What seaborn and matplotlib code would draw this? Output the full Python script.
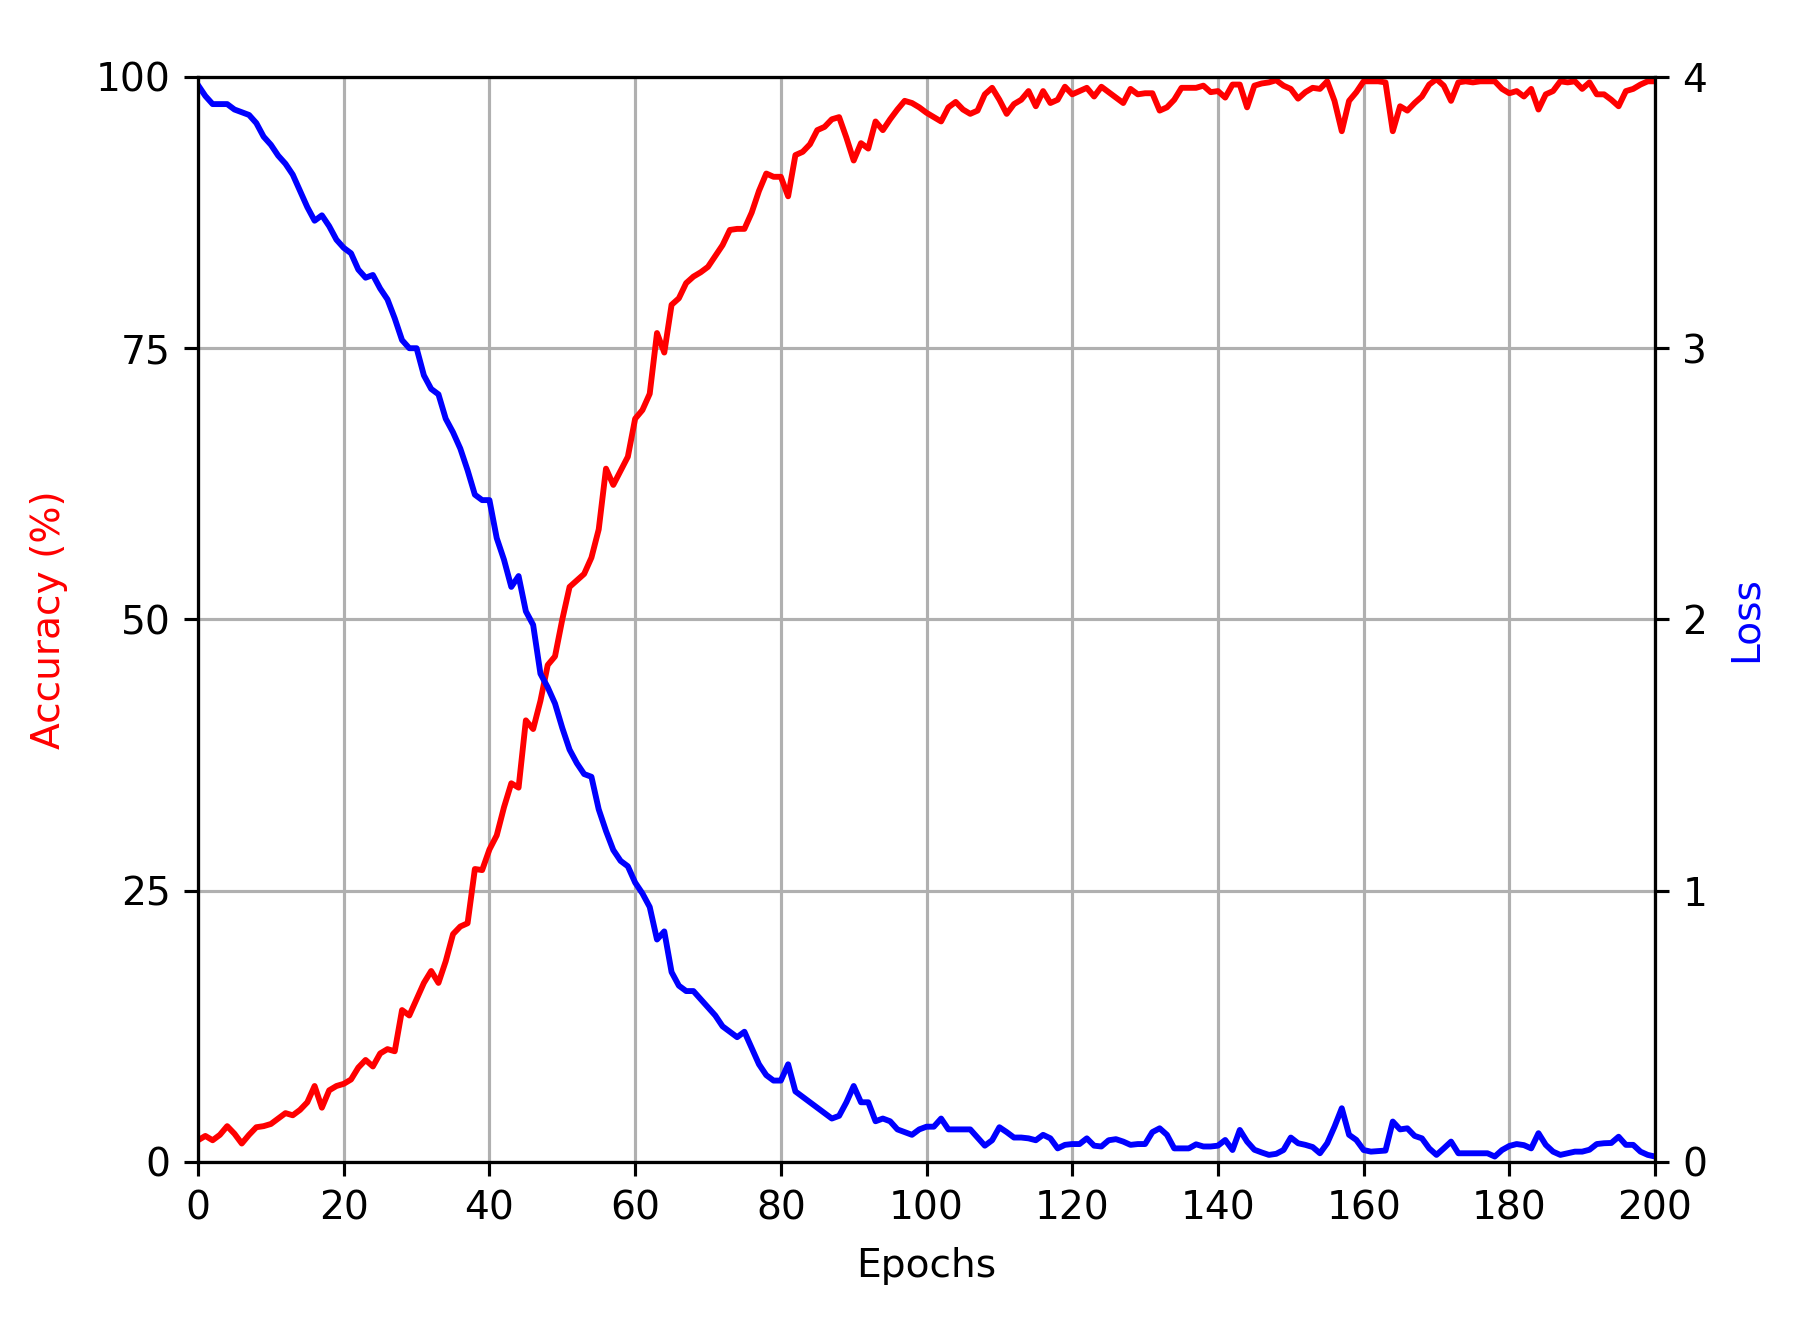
import numpy as np
import pandas as pd
import matplotlib
matplotlib.use("Agg")
import matplotlib.pyplot as plt
import seaborn as sns

# values, one per epoch (0..200)
accuracy = [
    2.0, 2.4, 2.0, 2.5, 3.3, 2.6, 1.7, 2.5, 3.2, 3.3,
    3.5, 4.0, 4.5, 4.3, 4.8, 5.5, 7.0, 5.0, 6.6, 7.0,
    7.2, 7.6, 8.7, 9.4, 8.8, 10.0, 10.4, 10.2, 14.0, 13.5,
    15.0, 16.5, 17.6, 16.5, 18.5, 21.0, 21.7, 22.0, 27.0, 26.9,
    28.8, 30.1, 32.7, 34.9, 34.5, 40.7, 39.9, 42.5, 45.8, 46.6,
    50.0, 53.0, 53.6, 54.2, 55.7, 58.3, 63.9, 62.4, 63.7, 65.0,
    68.5, 69.3, 70.8, 76.4, 74.6, 79.0, 79.6, 81.0, 81.6, 82.0,
    82.5, 83.5, 84.5, 85.9, 86.0, 86.0, 87.5, 89.5, 91.1, 90.8,
    90.8, 89.0, 92.8, 93.1, 93.8, 95.1, 95.4, 96.1, 96.3, 94.4,
    92.3, 93.9, 93.4, 95.9, 95.1, 96.1, 97.0, 97.8, 97.6, 97.2,
    96.7, 96.3, 95.9, 97.2, 97.7, 97.0, 96.6, 96.9, 98.4, 99.0,
    97.9, 96.6, 97.5, 97.9, 98.7, 97.3, 98.7, 97.6, 97.9, 99.1,
    98.4, 98.7, 99.0, 98.2, 99.1, 98.6, 98.1, 97.6, 98.9, 98.4,
    98.5, 98.5, 96.9, 97.2, 97.9, 99.0, 99.0, 99.0, 99.2, 98.6,
    98.7, 98.1, 99.3, 99.3, 97.2, 99.2, 99.4, 99.5, 99.7, 99.2,
    98.9, 98.0, 98.6, 99.0, 98.9, 99.6, 97.8, 95.0, 97.8, 98.6,
    99.6, 99.6, 99.6, 99.5, 95.0, 97.3, 96.9, 97.6, 98.2, 99.3,
    99.8, 99.2, 97.8, 99.5, 99.6, 99.5, 99.6, 99.6, 99.6, 98.9,
    98.5, 98.7, 98.2, 98.9, 97.0, 98.4, 98.7, 99.6, 99.5, 99.6,
    98.9, 99.5, 98.4, 98.4, 97.9, 97.3, 98.7, 98.9, 99.3, 99.6,
    99.6,
]

loss = [
    3.97, 3.93, 3.90, 3.90, 3.90, 3.88, 3.87, 3.86, 3.83, 3.78,
    3.75, 3.71, 3.68, 3.64, 3.58, 3.52, 3.47, 3.49, 3.45, 3.40,
    3.37, 3.35, 3.29, 3.26, 3.27, 3.22, 3.18, 3.11, 3.03, 3.00,
    3.00, 2.90, 2.85, 2.83, 2.74, 2.69, 2.63, 2.55, 2.46, 2.44,
    2.44, 2.30, 2.22, 2.12, 2.16, 2.03, 1.98, 1.80, 1.75, 1.69,
    1.60, 1.52, 1.47, 1.43, 1.42, 1.30, 1.22, 1.15, 1.11, 1.09,
    1.03, 0.99, 0.94, 0.82, 0.85, 0.70, 0.65, 0.63, 0.63, 0.60,
    0.57, 0.54, 0.50, 0.48, 0.46, 0.48, 0.42, 0.36, 0.32, 0.30,
    0.30, 0.36, 0.26, 0.24, 0.22, 0.20, 0.18, 0.16, 0.17, 0.22,
    0.28, 0.22, 0.22, 0.15, 0.16, 0.15, 0.12, 0.11, 0.10, 0.12,
    0.13, 0.13, 0.16, 0.12, 0.12, 0.12, 0.12, 0.09, 0.06, 0.08,
    0.128, 0.11, 0.09, 0.09, 0.087, 0.08, 0.10, 0.087, 0.05, 0.063,
    0.066, 0.066, 0.087, 0.06, 0.057, 0.08, 0.084, 0.075, 0.063, 0.066,
    0.066, 0.11, 0.124, 0.10, 0.05, 0.05, 0.05, 0.065, 0.057, 0.057,
    0.06, 0.081, 0.044, 0.118, 0.075, 0.045, 0.035, 0.026, 0.03, 0.044,
    0.09, 0.069, 0.063, 0.055, 0.032, 0.069, 0.13, 0.198, 0.10, 0.081,
    0.044, 0.038, 0.04, 0.042, 0.149, 0.12, 0.124, 0.096, 0.087, 0.05,
    0.026, 0.05, 0.075, 0.032, 0.032, 0.032, 0.032, 0.032, 0.02, 0.044,
    0.059, 0.066, 0.062, 0.05, 0.106, 0.063, 0.038, 0.026, 0.032, 0.038,
    0.038, 0.045, 0.066, 0.069, 0.07, 0.093, 0.063, 0.063, 0.038, 0.026,
    0.02,
]

epochs = np.arange(len(accuracy))
df = pd.DataFrame({"epoch": epochs, "accuracy": accuracy, "loss": loss})

fig = plt.figure(figsize=(1807 / 282, 1318 / 282), dpi=282)
ax = fig.add_axes([0.1096, 0.1184, 0.8063, 0.8232])

sns.lineplot(data=df, x="epoch", y="accuracy", color="red", linewidth=1.5, ax=ax)
ax.set_xlim(0, 200)
ax.set_ylim(0, 100)
ax.set_xticks(range(0, 201, 20))
ax.set_yticks([0, 25, 50, 75, 100])
ax.set_xlabel("Epochs", labelpad=5)
ax.set_ylabel("Accuracy (%)", color="red", labelpad=7)
ax.grid(True, color="#b0b0b0", linewidth=0.8)

ax2 = ax.twinx()
sns.lineplot(data=df, x="epoch", y="loss", color="blue", linewidth=1.5, ax=ax2)
ax2.set_ylim(0, 4)
ax2.set_yticks([0, 1, 2, 3, 4])
ax2.set_ylabel("Loss", color="blue", labelpad=5)

fig.savefig("out.png", dpi=282)
